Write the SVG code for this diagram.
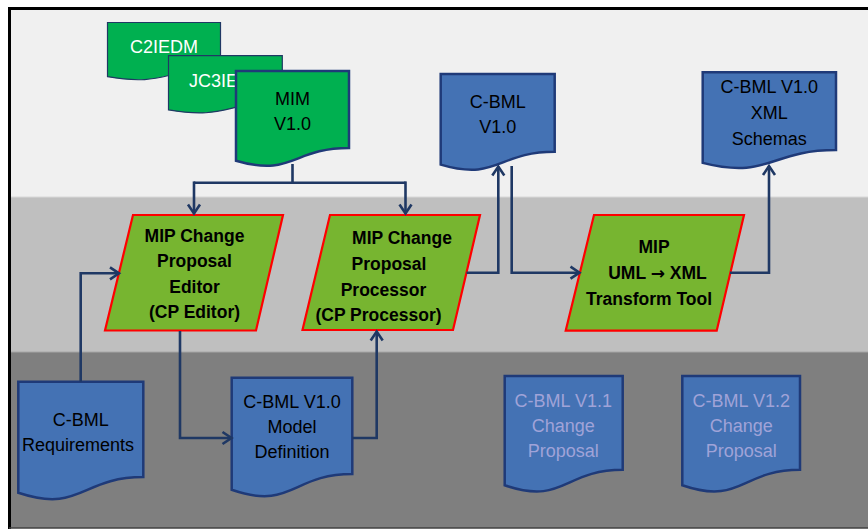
<svg xmlns="http://www.w3.org/2000/svg" width="868" height="529" viewBox="0 0 868 529">
<defs>
<marker id="arr" markerUnits="userSpaceOnUse" markerWidth="14" markerHeight="16" refX="11" refY="7" orient="auto" viewBox="0 0 14 14">
<path d="M2,1 L11,7 L2,13" fill="none" stroke="#1f3864" stroke-width="2.6" stroke-linejoin="miter"/>
</marker>
</defs>
<style>
text{font-family:"Liberation Sans",Arial,sans-serif;font-size:18px;text-anchor:middle}
.g{fill:#00b050;stroke:#203864;stroke-width:1.2}
.gm{fill:#00b050;stroke:#1f3a78;stroke-width:2.5}
.b{fill:#4472b4;stroke:#1f3a78;stroke-width:2.5}
.p{fill:#77b530;stroke:#ff0000;stroke-width:2.2}
.pt{font-weight:bold;font-size:17.5px;fill:#000}
.w{fill:#ffffff}
.k{fill:#000}
.f{fill:#a0a3d8}
.c{fill:none;stroke:#1f3864;stroke-width:2.6}
.ar{font-family:"DejaVu Sans",sans-serif;font-size:17px}
</style>
<rect x="0" y="0" width="868" height="529" fill="#ffffff"/>
<rect x="10" y="10" width="860" height="187" fill="#f0f0f0"/>
<rect x="10" y="197" width="860" height="155" fill="#bfbfbf"/>
<rect x="10" y="352" width="860" height="176" fill="#7f7f7f"/>
<line x1="10" y1="352" x2="868" y2="352" stroke="#a6a6a6" stroke-width="1"/>
<line x1="10" y1="197" x2="868" y2="197" stroke="#d9d9d9" stroke-width="1"/>
<path d="M9.5,529 V8.5 H868" fill="none" stroke="#000" stroke-width="3"/>
<line x1="9" y1="528" x2="868" y2="528" stroke="#404040" stroke-width="1.5"/>

<g id="c2iedm">
<path class="g" d="M107.5,22.5 H220.5 V69 C164,69 164,86.7 107.5,76.7 Z"/>
<text class="w" x="164" y="53.3">C2IEDM</text>
</g>
<g id="jc3iedm">
<path class="g" d="M168.5,55.7 H282.3 V102.2 C225.4,102.2 225.4,119.9 168.5,109.9 Z"/>
<text class="w" x="227.5" y="86.7">JC3IEDM</text>
</g>
<g id="mim">
<path class="gm" d="M236,71 H349 V148 C292.5,148 292.5,177.3 236,160.7 Z"/>
<text class="k" x="292.5" y="105">MIM</text>
<text class="k" x="292.5" y="130">V1.0</text>
</g>

<g id="cbml10">
<path class="b" d="M440.7,74 H554.7 V151.8 C497.7,151.8 497.7,181.4 440.7,164.6 Z"/>
<text class="k" x="497.7" y="108.3">C-BML</text>
<text class="k" x="497.7" y="133.3">V1.0</text>
</g>
<g id="schemas">
<path class="b" d="M702.7,72.3 H836 V150.1 C769.3,150.1 769.3,179.7 702.7,162.9 Z"/>
<text class="k" x="769.3" y="92.7">C-BML V1.0</text>
<text class="k" x="769.3" y="119">XML</text>
<text class="k" x="769.3" y="145">Schemas</text>
</g>

<g id="cpeditor">
<path class="p" d="M133,215 H283 L256,330.5 H105 Z"/>
<text class="pt" x="194.5" y="241.7">MIP Change</text>
<text class="pt" x="194.5" y="267">Proposal</text>
<text class="pt" x="194.5" y="292.7">Editor</text>
<text class="pt" x="194.5" y="318">(CP Editor)</text>
</g>
<g id="cpprocessor">
<path class="p" d="M330,215 H480 L453,330 H302.5 Z"/>
<text class="pt" x="402" y="244">MIP Change</text>
<text class="pt" x="389" y="270">Proposal</text>
<text class="pt" x="383.5" y="296">Processor</text>
<text class="pt" x="378.5" y="321">(CP Processor)</text>
</g>
<g id="transform">
<path class="p" d="M594,215 H744 L716.7,330.7 H565.7 Z"/>
<text class="pt" x="654" y="253.3">MIP</text>
<text class="pt" x="657.5" y="279.3">UML <tspan class="ar">→</tspan> XML</text>
<text class="pt" x="649" y="305">Transform Tool</text>
</g>

<g id="requirements">
<path class="b" d="M18.3,381.7 H143.3 V477.1 C80.8,477.1 80.8,513.5 18.3,492.8 Z"/>
<text class="k" x="80.8" y="426">C-BML</text>
<text class="k" x="78" y="451">Requirements</text>
</g>
<g id="modeldef">
<path class="b" d="M231.7,377.7 H352.3 V474 C292,474 292,510.6 231.7,489.8 Z"/>
<text class="k" x="292" y="407.7">C-BML V1.0</text>
<text class="k" x="292" y="433.3">Model</text>
<text class="k" x="292" y="458.3">Definition</text>
</g>
<g id="cp11">
<path class="b" d="M504.7,376 H622.7 V469.8 C563.7,469.8 563.7,505.6 504.7,485.3 Z"/>
<text class="f" x="563.3" y="406.7">C-BML V1.1</text>
<text class="f" x="563.3" y="431.7">Change</text>
<text class="f" x="563.3" y="456.7">Proposal</text>
</g>
<g id="cp12">
<path class="b" d="M682.3,376 H800 V469.8 C741.2,469.8 741.2,505.6 682.3,485.3 Z"/>
<text class="f" x="741.3" y="406.7">C-BML V1.2</text>
<text class="f" x="741.3" y="431.7">Change</text>
<text class="f" x="741.3" y="456.7">Proposal</text>
</g>

<g id="connectors">
<path class="c" d="M292.5,164 V182.7 M194,182.7 H405.5"/>
<path class="c" d="M194,181.4 V213.5" marker-end="url(#arr)"/>
<path class="c" d="M405.5,181.4 V213.5" marker-end="url(#arr)"/>
<path class="c" d="M466.5,272.7 H498.3 V166.5" marker-end="url(#arr)"/>
<path class="c" d="M511.7,166 V272.7 H579.5" marker-end="url(#arr)"/>
<path class="c" d="M730,272.7 H769 V166" marker-end="url(#arr)"/>
<path class="c" d="M80.7,381.7 V273.3 H119" marker-end="url(#arr)"/>
<path class="c" d="M180,331 V438 H231.5" marker-end="url(#arr)"/>
<path class="c" d="M352.3,438 H376.7 V331.5" marker-end="url(#arr)"/>
</g>
</svg>
